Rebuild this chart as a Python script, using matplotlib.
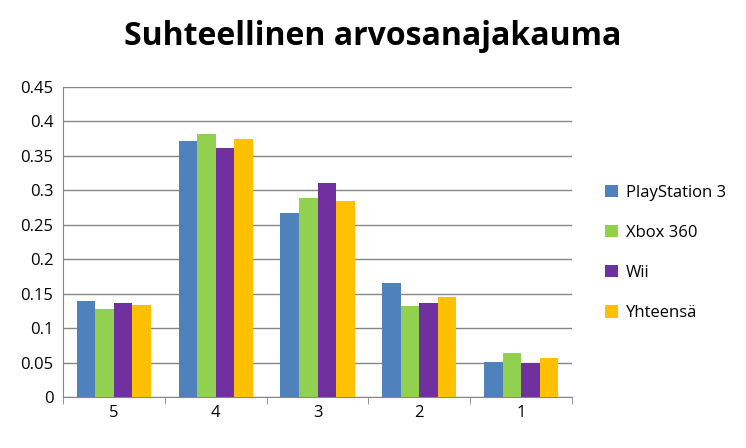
import matplotlib
matplotlib.use("Agg")
import matplotlib.pyplot as plt
import numpy as np

categories = ["5", "4", "3", "2", "1"]
series_names = ["PlayStation 3", "Xbox 360", "Wii", "Yhteensä"]
ps3 = [0.140, 0.372, 0.267, 0.166, 0.051]
xbox = [0.128, 0.382, 0.289, 0.132, 0.064]
wii = [0.137, 0.362, 0.311, 0.137, 0.049]
yht = [0.134, 0.375, 0.285, 0.145, 0.057]
colors = ["#4F81BD", "#92D050", "#7030A0", "#FFC000"]

plt.rcParams['font.family'] = ['Open Sans', 'DejaVu Sans']
fig = plt.figure(figsize=(7.46, 4.48), dpi=100)
ax = fig.add_axes([63/746, 51/448, 509/746, 310/448])
x = np.arange(len(categories))
w = 0.182
for i, (vals, c, n) in enumerate(zip([ps3, xbox, wii, yht], colors, series_names)):
    ax.bar(x + (i - 1.5) * w, vals, w, color=c, label=n, zorder=3)
ax.set_xlim(-0.5, 4.5)
ax.set_ylim(0, 0.45)
ax.set_yticks(np.arange(0, 0.451, 0.05))
ax.set_yticklabels(["0", "0.05", "0.1", "0.15", "0.2", "0.25", "0.3", "0.35", "0.4", "0.45"], fontsize=12)
ax.set_xticks(x)
ax.set_xticklabels(categories, fontsize=12)
ax.set_xticks(np.arange(-0.5, 4.6, 1), minor=True)
ax.tick_params(axis='x', which='major', length=0, pad=6)
ax.tick_params(axis='x', which='minor', length=5, color='#868686')
ax.tick_params(axis='y', length=0, pad=7)
ax.grid(axis='y', color='#868686', linewidth=1, zorder=0)
for s in ['top', 'right']:
    ax.spines[s].set_visible(False)
for s in ['left', 'bottom']:
    ax.spines[s].set_color('#868686')
fig.text(0.5, 0.9, "Suhteellinen arvosanajakauma", ha='center', fontsize=23, fontweight='bold')
fig.legend(loc='center left', bbox_to_anchor=(590/746, 0.435), frameon=False, fontsize=12,
           handlelength=0.75, handleheight=0.75, handletextpad=0.5, labelspacing=1.45)
fig.savefig("out.png", dpi=100)
